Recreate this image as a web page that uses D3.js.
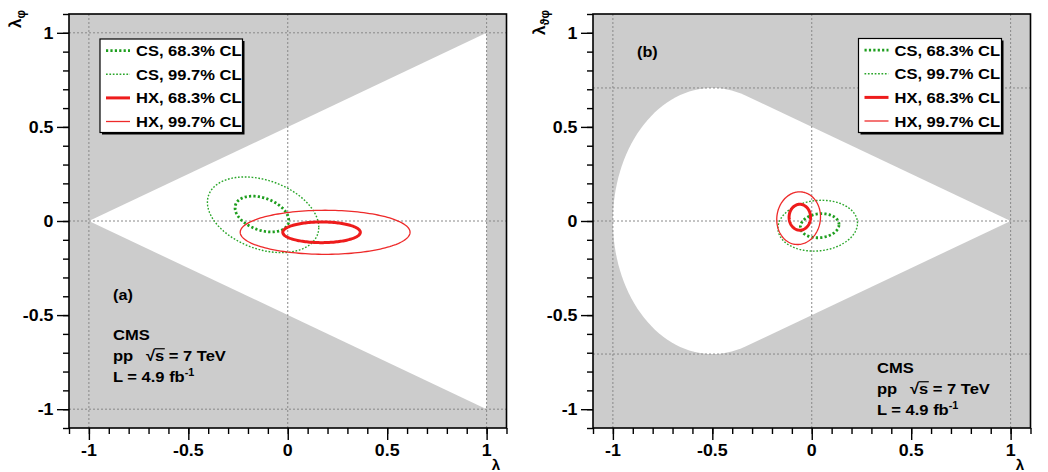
<!DOCTYPE html>
<html><head><meta charset="utf-8">
<script src="https://cdn.jsdelivr.net/npm/d3@7"></script>
<style>
body{margin:0;background:#fff}
svg text{font-family:"Liberation Sans",Arial,Helvetica,sans-serif;font-weight:bold;fill:#000}
</style>
</head><body>
<svg id="c" width="1048" height="472"></svg>
<script>
// ---------------- data ----------------
const majorTicks = [-1, -0.5, 0, 0.5, 1];
const tickLabels = ["-1", "-0.5", "0", "0.5", "1"];
const legendLabels = ["CS, 68.3% CL", "CS, 99.7% CL", "HX, 68.3% CL", "HX, 99.7% CL"];

// contour ellipses: centre, half-extent, correlation
const aCx  = [-0.130, -0.124, 0.170, 0.188];
const aCy  = [ 0.037,  0.033, -0.060, -0.060];
const aRx  = [ 0.135,  0.280, 0.195, 0.427];
const aRy  = [ 0.095,  0.201, 0.055, 0.117];
const aRho = [-0.35,  -0.33,  0.0,   0.0];

const bCx  = [ 0.040,  0.030, -0.060, -0.066];
const bCy  = [-0.025, -0.025,  0.020,  0.015];
const bRx  = [ 0.097,  0.200,  0.054,  0.110];
const bRy  = [ 0.064,  0.135,  0.069,  0.140];
const bRho = [ 0.10,   0.10,   0.0,    0.05];

// allowed regions
const regionA = [[-1, 0], [1, 1], [1, -1]];
const regionBApex = [1, 0];
const regionBTangent = [-1/3, 2/3];
const regionBEllipse = {cx: -0.5, a: 0.5, b: Math.SQRT1_2};

const gridXa = [-1, 0, 1], gridYa = [-1, 0, 1];
const gridXb = [-1, 0, 1], gridYb = [-0.707, 0, 0.707];

// ---------------- styles ----------------
const styles = [
  {color: "#1e9e1e", width: 2.8, dash: "2.2,2.2"},
  {color: "#2aa62a", width: 1.4, dash: "1.7,1.7"},
  {color: "#ee1c1c", width: 3.0, dash: null},
  {color: "#ee2a2a", width: 1.3, dash: null}
];
const SX = 1.08; // horizontal stretch of text

const svg = d3.select("#c");

function stxt(parent, x, y, str, size, anchor) {
  const g = parent.append("g").attr("transform", `translate(${x},${y}) scale(${SX},1)`);
  const t = g.append("text").attr("font-size", size).attr("text-anchor", anchor || "start").text(str);
  return {g, t};
}

function ellipsePts(cx, cy, rx, ry, rho) {
  const n = 160, pts = [];
  const s = Math.sqrt(1 - rho * rho);
  for (let i = 0; i < n; i++) {
    const t = 2 * Math.PI * i / n;
    pts.push([cx + rx * Math.cos(t), cy + ry * (rho * Math.cos(t) + s * Math.sin(t))]);
  }
  return pts;
}

function drawPanel(ox, opts) {
  const x0 = ox + 69, x1 = ox + 506.5, y0 = 14, y1 = 428;
  const x = d3.scaleLinear().domain([-1.1, 1.1]).range([x0, x1]);
  const y = d3.scaleLinear().domain([-1.1, 1.1]).range([y1, y0]);
  const g = svg.append("g");
  const clipId = "clip" + ox;
  g.append("clipPath").attr("id", clipId).append("rect")
    .attr("x", x0).attr("y", y0).attr("width", x1 - x0).attr("height", y1 - y0);
  const inner = g.append("g").attr("clip-path", `url(#${clipId})`);
  inner.append("rect").attr("x", x0).attr("y", y0).attr("width", x1 - x0).attr("height", y1 - y0).attr("fill", "#cccccc");

  const line = d3.line().x(d => x(d[0])).y(d => y(d[1])).curve(d3.curveLinearClosed);
  inner.append("path").attr("d", line(opts.region)).attr("fill", "#fff");

  // grid
  const gs = {stroke: "#888", "stroke-width": 1, "stroke-dasharray": "2,2"};
  opts.gridX.forEach(v => {
    const l = inner.append("line").attr("x1", x(v)).attr("x2", x(v)).attr("y1", y0).attr("y2", y1);
    Object.entries(gs).forEach(([k, val]) => l.attr(k, val));
  });
  opts.gridY.forEach(v => {
    const l = inner.append("line").attr("x1", x0).attr("x2", x1).attr("y1", y(v)).attr("y2", y(v));
    Object.entries(gs).forEach(([k, val]) => l.attr(k, val));
  });

  // contours
  [1, 0, 3, 2].forEach(i => {
    const p = inner.append("path")
      .attr("d", line(ellipsePts(opts.cx[i], opts.cy[i], opts.rx[i], opts.ry[i], opts.rho[i])))
      .attr("fill", "none").attr("stroke", styles[i].color).attr("stroke-width", styles[i].width);
    if (styles[i].dash) p.attr("stroke-dasharray", styles[i].dash);
  });

  // frame
  g.append("rect").attr("x", x0).attr("y", y0).attr("width", x1 - x0).attr("height", y1 - y0)
    .attr("fill", "none").attr("stroke", "#000").attr("stroke-width", 1.6);

  // axes ticks
  const xAxisMinor = d3.axisBottom(x).tickValues(x.ticks(22)).tickSize(6).tickFormat("");
  const xAxisMajor = d3.axisBottom(x).tickValues(majorTicks).tickSize(12).tickFormat("");
  const yAxisMinor = d3.axisLeft(y).tickValues(y.ticks(22)).tickSize(6).tickFormat("");
  const yAxisMajor = d3.axisLeft(y).tickValues(majorTicks).tickSize(12).tickFormat("");
  [xAxisMinor, xAxisMajor].forEach(a => {
    const ag = g.append("g").attr("transform", `translate(0,${y1})`).call(a);
    ag.select(".domain").remove();
    ag.selectAll("line").attr("stroke", "#000").attr("stroke-width", 1.4);
  });
  [yAxisMinor, yAxisMajor].forEach(a => {
    const ag = g.append("g").attr("transform", `translate(${x0},0)`).call(a);
    ag.select(".domain").remove();
    ag.selectAll("line").attr("stroke", "#000").attr("stroke-width", 1.4);
  });
  majorTicks.forEach((v, i) => {
    stxt(g, x(v), 455.5, tickLabels[i], 16.5, "middle");
    stxt(g, ox + 53.5, y(v) + 6, tickLabels[i], 16.5, "end");
  });

  // axis titles
  stxt(g, ox + 496, 469.5, "λ", 14, "middle");
  const yt = g.append("text").attr("transform", `translate(${ox + 21},${10}) rotate(-90)`)
    .attr("text-anchor", "end").attr("font-size", 17);
  yt.append("tspan").text("λ");
  yt.append("tspan").attr("dy", 4).attr("font-size", 12).text(opts.ySub);

  // legend
  const L = opts.legend;
  g.append("rect").attr("x", L.x + 2).attr("y", L.y + 2).attr("width", L.w).attr("height", L.h).attr("fill", "#000");
  g.append("rect").attr("x", L.x).attr("y", L.y).attr("width", L.w).attr("height", L.h)
    .attr("fill", "#fff").attr("stroke", "#000").attr("stroke-width", 1.2);
  legendLabels.forEach((lab, i) => {
    const cy = L.y + 11.7 + i * 23.6;
    const l = g.append("line").attr("x1", L.x + 6).attr("x2", L.x + 30).attr("y1", cy).attr("y2", cy)
      .attr("stroke", styles[i].color).attr("stroke-width", styles[i].width);
    if (styles[i].dash) l.attr("stroke-dasharray", styles[i].dash);
    stxt(g, L.x + 36, cy + 5.5, lab, 15.3, "start");
  });

  // labels
  stxt(g, opts.tag[0], opts.tag[1], opts.tagText, 15, "start");
  const c = opts.cms;
  stxt(g, c[0], c[1], "CMS", 15.3, "start");
  stxt(g, c[0], c[1] + 21, "pp", 15.3, "start");
  const rt = stxt(g, c[0] + 33, c[1] + 21, "√s = 7 TeV", 15.3, "start");
  try {
    const e = rt.t.node().getExtentOfChar(1);
    rt.g.append("line").attr("x1", e.x - 0.5).attr("x2", e.x + e.width + 0.5)
      .attr("y1", e.y + 1.2).attr("y2", e.y + 1.2).attr("stroke", "#000").attr("stroke-width", 1.2);
  } catch (err) {}
  const lt = stxt(g, c[0], c[1] + 41.5, "L = 4.9 fb", 15.3, "start");
  lt.t.append("tspan").attr("dy", -6).attr("font-size", 10).text("-1");
}

drawPanel(0, {
  region: regionA,
  gridX: gridXa, gridY: gridYa,
  cx: aCx, cy: aCy, rx: aRx, ry: aRy, rho: aRho,
  ySub: "φ",
  legend: {x: 100, y: 39, w: 142.5, h: 93.5},
  tag: [113, 300], tagText: "(a)",
  cms: [113, 340]
});

// build region B boundary from its constraint shape
const regionB = [regionBApex, regionBTangent];
{
  const E = regionBEllipse;
  const th0 = Math.acos((regionBTangent[0] - E.cx) / E.a);
  const n = 80;
  for (let i = 1; i < n; i++) {
    const th = th0 + (2 * Math.PI - 2 * th0) * i / n;
    regionB.push([E.cx + E.a * Math.cos(th), E.b * Math.sin(th)]);
  }
  regionB.push([regionBTangent[0], -regionBTangent[1]]);
}

drawPanel(524, {
  region: regionB,
  gridX: gridXb, gridY: gridYb,
  cx: bCx, cy: bCy, rx: bRx, ry: bRy, rho: bRho,
  ySub: "ϑφ",
  legend: {x: 858.5, y: 38.5, w: 143, h: 94},
  tag: [637, 57], tagText: "(b)",
  cms: [877, 373]
});
</script>
</body></html>
